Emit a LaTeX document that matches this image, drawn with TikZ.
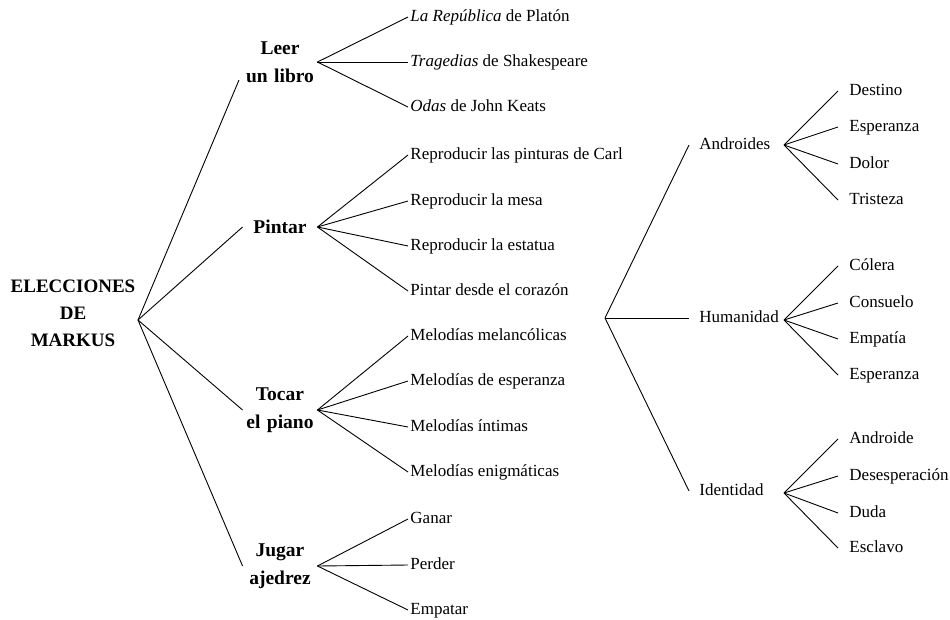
\documentclass[tikz,border=0pt]{standalone}
\usepackage{fontspec}
\setmainfont{Liberation Serif}

\begin{document}
\begin{tikzpicture}[x=1pt, y=-1pt, line width=0.9pt,
  rootlbl/.style={font=\fontsize{19}{27}\selectfont\bfseries, align=center},
  choice/.style={font=\fontsize{19.5}{28}\selectfont\bfseries, align=center,
    text width=74pt, inner xsep=0pt},
  leaf/.style={font=\fontsize{17}{20}\selectfont, anchor=west, inner xsep=2pt,
    text height=11pt, text depth=3pt},
  topic/.style={leaf, inner xsep=10pt},
  rleaf/.style={leaf, inner xsep=11pt}]

\useasboundingbox (0,0) rectangle (950,619);

% Root and its four choices
\node[rootlbl] (elec) at (73,313) {ELECCIONES\\DE\\MARKUS};
\coordinate (hub) at (138,320);

\node[choice] (leer)   at (280,62)  {Leer\\un libro};
\node[choice] (pintar) at (280,227) {Pintar};
\node[choice] (tocar)  at (280,410) {Tocar\\el piano};
\node[choice] (jugar)  at (280,566) {Jugar\\ajedrez};
\coordinate (leer-in) at (239,80);

\draw (hub) -- (leer-in);
\foreach \c in {pintar, tocar, jugar}
  \draw (hub) -- (\c.west);

% Leaves of each choice
\foreach \y/\n/\t in {17/rep/{\emph{La República} de Platón},
                      62/tra/{\emph{Tragedias} de Shakespeare},
                      107/oda/{\emph{Odas} de John Keats}} {
  \node[leaf] (\n) at (408,\y) {\t};
  \draw (leer.east) -- (\n.west);
}
\foreach \y/\n/\t in {155/carl/{Reproducir las pinturas de Carl},
                      201/mesa/{Reproducir la mesa},
                      246/esta/{Reproducir la estatua},
                      291/cora/{Pintar desde el corazón}} {
  \node[leaf] (\n) at (408,\y) {\t};
  \draw (pintar.east) -- (\n.west);
}
\foreach \y/\n/\t in {336/mel/{Melodías melancólicas},
                      381/esp/{Melodías de esperanza},
                      427/int/{Melodías íntimas},
                      472/eni/{Melodías enigmáticas}} {
  \node[leaf] (\n) at (408,\y) {\t};
  \draw (tocar.east) -- (\n.west);
}
\foreach \y/\n/\t in {519/gan/Ganar, 565/per/Perder, 610/emp/Empatar} {
  \node[leaf] (\n) at (408,\y) {\t};
  \draw (jugar.east) -- (\n.west);
}

% Second tree
\coordinate (hub2) at (605,318);
\node[topic] (andr) at (689,145) {Androides};
\node[topic] (huma) at (689,318) {Humanidad};
\node[topic] (iden) at (689,491) {Identidad};
\coordinate (andr-j) at (784,145);
\coordinate (huma-j) at (784,320);
\coordinate (iden-j) at (784,493);
\foreach \c in {andr, huma, iden}
  \draw (hub2) -- (\c.west);

\foreach \y/\n/\t in {91/des/Destino, 127/espa/Esperanza, 164/dol/Dolor, 200/tri/Tristeza} {
  \node[rleaf] (\n) at (838,\y) {\t};
  \draw (andr-j) -- (\n.west);
}
\foreach \y/\n/\t in {266/col/Cólera, 303/con/Consuelo, 339/empa/Empatía, 375/esph/Esperanza} {
  \node[rleaf] (\n) at (838,\y) {\t};
  \draw (huma-j) -- (\n.west);
}
\foreach \y/\n/\t in {439/andro/Androide, 476/dese/Desesperación, 513/dud/Duda, 548/escl/Esclavo} {
  \node[rleaf] (\n) at (838,\y) {\t};
  \draw (iden-j) -- (\n.west);
}

\end{tikzpicture}
\end{document}
